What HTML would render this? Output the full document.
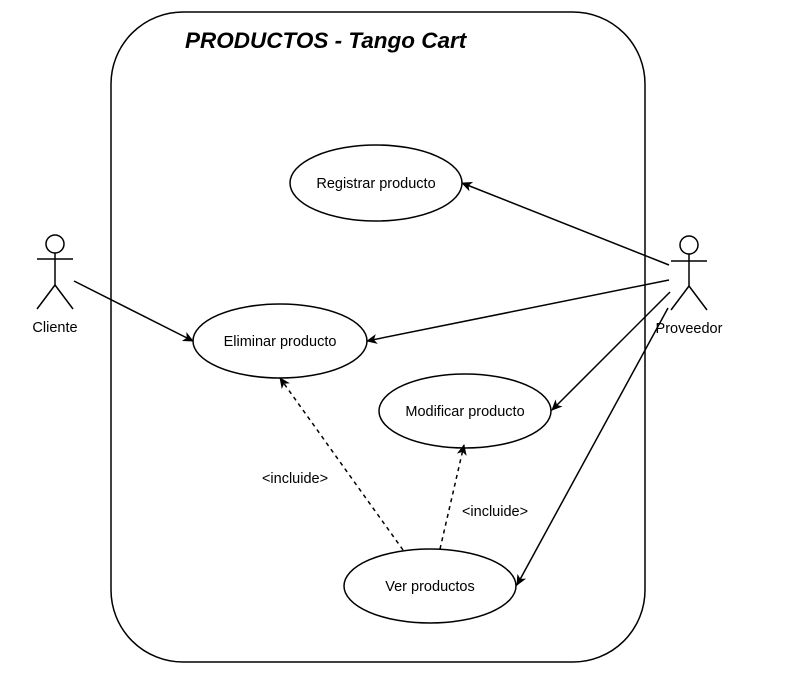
<!DOCTYPE html>
<html><head><meta charset="utf-8"><style>
html,body{margin:0;padding:0;background:#fff;}
svg{display:block;}
text{font-family:"Liberation Sans",Arial,sans-serif;font-size:14.5px;fill:#000;}
</style></head><body>
<svg width="792" height="684" viewBox="0 0 792 684" xmlns="http://www.w3.org/2000/svg">
<defs>
<marker id="a" markerWidth="12" markerHeight="10" refX="10" refY="5" orient="auto" markerUnits="userSpaceOnUse">
<path d="M0,0 L11,5 L0,10 L3,5 Z" fill="#000"/>
</marker>
</defs>
<rect x="111" y="12" width="534" height="650" rx="72" ry="72" fill="#fff" stroke="#000" stroke-width="1.5"/>
<text x="185" y="48" style="font-size:22.5px;font-weight:bold;font-style:italic;">PRODUCTOS - Tango Cart</text>

<ellipse cx="376" cy="183" rx="86" ry="38" fill="#fff" stroke="#000" stroke-width="1.5"/>
<text x="376" y="188" text-anchor="middle">Registrar producto</text>
<ellipse cx="280" cy="341" rx="87" ry="37" fill="#fff" stroke="#000" stroke-width="1.5"/>
<text x="280" y="346" text-anchor="middle">Eliminar producto</text>
<ellipse cx="465" cy="411" rx="86" ry="37" fill="#fff" stroke="#000" stroke-width="1.5"/>
<text x="465" y="416" text-anchor="middle">Modificar producto</text>
<ellipse cx="430" cy="586" rx="86" ry="37" fill="#fff" stroke="#000" stroke-width="1.5"/>
<text x="430" y="591" text-anchor="middle">Ver productos</text>

<g stroke="#000" stroke-width="1.5" fill="none">
<circle cx="55" cy="244" r="9"/>
<line x1="55" y1="253" x2="55" y2="285"/>
<line x1="37" y1="259" x2="73" y2="259"/>
<line x1="55" y1="285" x2="37" y2="309"/>
<line x1="55" y1="285" x2="73" y2="309"/>
<circle cx="689" cy="245" r="9"/>
<line x1="689" y1="254" x2="689" y2="286"/>
<line x1="671" y1="261" x2="707" y2="261"/>
<line x1="689" y1="286" x2="671" y2="310"/>
<line x1="689" y1="286" x2="707" y2="310"/>

<line x1="74" y1="281" x2="193" y2="341" marker-end="url(#a)"/>
<line x1="669" y1="265" x2="462" y2="183" marker-end="url(#a)"/>
<line x1="669" y1="280" x2="367" y2="341" marker-end="url(#a)"/>
<line x1="670" y1="292" x2="552" y2="410" marker-end="url(#a)"/>
<line x1="668" y1="308" x2="517" y2="585" marker-end="url(#a)"/>
<line x1="403" y1="550" x2="280" y2="378" stroke-dasharray="4,4" marker-end="url(#a)"/>
<line x1="440" y1="549" x2="464" y2="445" stroke-dasharray="4,4" marker-end="url(#a)"/>
</g>
<text x="55" y="332" text-anchor="middle">Cliente</text>
<text x="689" y="333" text-anchor="middle">Proveedor</text>
<text x="295" y="483" text-anchor="middle">&lt;incluide&gt;</text>
<text x="495" y="516" text-anchor="middle">&lt;incluide&gt;</text>
</svg>
</body></html>
